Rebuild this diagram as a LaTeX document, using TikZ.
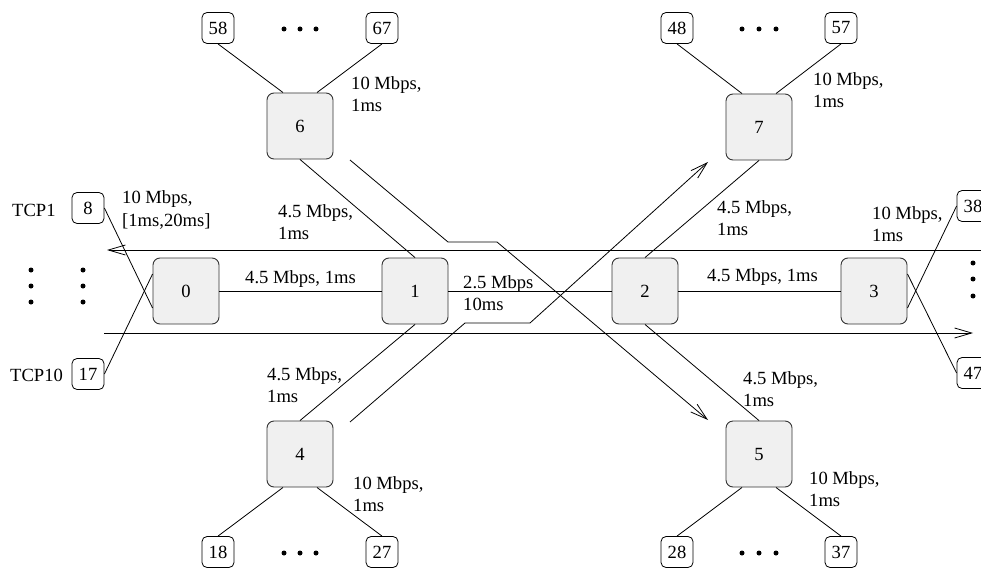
\documentclass[tikz,border=0pt]{standalone}
\usepackage{fontspec}
\setmainfont{Liberation Serif}
\newfontfamily\tms{Liberation Serif}
\usetikzlibrary{arrows.meta,calc}
\begin{document}
\begin{tikzpicture}[x=1pt,y=-1pt,
  every node/.append style={font=\tms\fontsize{18.6}{22.5}\selectfont},
  router/.style={draw=black!80, fill=black!6, rounded corners=7pt, minimum width=66pt, minimum height=66pt, inner sep=0pt, line width=0.9pt},
  leaf/.style={draw, fill=white, rounded corners=5pt, minimum width=32pt, minimum height=31pt, inner sep=0pt, line width=0.8pt},
  lbl/.style={anchor=west, align=left, inner sep=0pt},
  link/.style={line width=0.8pt},
  flow/.style={line width=0.8pt, -{Straight Barb[length=17pt,width=10pt]}},
  dot/.style={circle, fill, inner sep=0pt, minimum size=5pt}
]
\useasboundingbox (0,0) rectangle (981,572);
\clip (0,0) rectangle (981,572);

% routers
\node[router] (r0) at (186,291) {0};
\node[router] (r1) at (415,291) {1};
\node[router] (r2) at (645,291) {2};
\node[router] (r3) at (874,291) {3};
\node[router] (r6) at (300,126) {6};
\node[router] (r7) at (759,127) {7};
\node[router] (r4) at (300,454) {4};
\node[router] (r5) at (759,454) {5};

% leaves
\node[leaf] (n58) at (218,28) {58};
\node[leaf] (n67) at (382,28) {67};
\node[leaf] (n48) at (677,28) {48};
\node[leaf] (n57) at (841,28) {57};
\node[leaf] (n18) at (218,552) {18};
\node[leaf] (n27) at (382,552) {27};
\node[leaf] (n28) at (677,552) {28};
\node[leaf] (n37) at (841,552) {37};
\node[leaf] (n8) at (88,208) {8};
\node[leaf] (n17) at (88,374) {17};
\node[leaf] (n38) at (973,206) {38};
\node[leaf] (n47) at (973,373) {47};

% dots
\foreach \x [count=\i] in {284,300,316} {
  \node[dot] (dt\i) at (\x,29) {};
  \node[dot] (db\i) at (\x,553) {};
}
\foreach \x [count=\i] in {742,759,776} {
  \node[dot] (dtr\i) at (\x,29) {};
  \node[dot] (dbr\i) at (\x,553) {};
}
\foreach \y [count=\i] in {270,286,302} {
  \node[dot] (dla\i) at (31,\y) {};
  \node[dot] (dlb\i) at (83,\y) {};
}
\foreach \y [count=\i] in {263,279,296} {
  \node[dot] (dr\i) at (973,\y) {};
}

% router links
\draw[link] (r0) -- (r1);
\draw[link] (r1) -- (r2);
\draw[link] (r2) -- (r3);
\draw[link] (r6.south) -- (r1.north);
\draw[link] (r1.south) -- (r4.north);
\draw[link] (r7.south) -- (r2.north);
\draw[link] (r2.south) -- (r5.north);

% leaf links
\draw[link] (n58.south) -- ([xshift=-17pt]r6.north);
\draw[link] (n67.south) -- ([xshift=17pt]r6.north);
\draw[link] (n48.south) -- ([xshift=-17pt]r7.north);
\draw[link] (n57.south) -- ([xshift=17pt]r7.north);
\draw[link] (n18.north) -- ([xshift=-17pt]r4.south);
\draw[link] (n27.north) -- ([xshift=17pt]r4.south);
\draw[link] (n28.north) -- ([xshift=-17pt]r5.south);
\draw[link] (n37.north) -- ([xshift=17pt]r5.south);
\draw[link] (n8.east) -- ([yshift=-17pt]r0.west);
\draw[link] (n17.east) -- ([yshift=17pt]r0.west);
\draw[link] ([yshift=-17pt]r3.east) -- (n38.west);
\draw[link] ([yshift=17pt]r3.east) -- (n47.west);

% flows
\coordinate (ta) at (990,250);
\coordinate (tb) at (107,250);
\coordinate (ba) at (104,333);
\coordinate (bb) at (973,333);
\draw[flow] (ta) -- (tb);
\draw[flow] (ba) -- (bb);

\coordinate (fa1) at (350,160);
\coordinate (fa2) at (448,242);
\coordinate (fa3) at (497,242);
\coordinate (fa4) at (708,420);
\draw[flow] (fa1) -- (fa2) -- (fa3) -- (fa4);

\coordinate (fb1) at (350,422);
\coordinate (fb2) at (465,323);
\coordinate (fb3) at (530,323);
\coordinate (fb4) at (708,162);
\draw[flow] (fb1) -- (fb2) -- (fb3) -- (fb4);

% labels
\node[lbl] (l8) at (122,210) {10 Mbps,\\{}[1ms,20ms]};
\node[lbl] (l1u) at (278,222) {4.5 Mbps,\\1ms};
\node[lbl] (l01) at (245,279) {4.5 Mbps, 1ms};
\node[lbl] (l12) at (463,293) {2.5 Mbps\\10ms};
\node[lbl] (l23) at (707,277) {4.5 Mbps, 1ms};
\node[lbl] (l7u) at (717,218) {4.5 Mbps,\\1ms};
\node[lbl] (l3) at (872,224) {10 Mbps,\\1ms};
\node[lbl] (l4u) at (267,385) {4.5 Mbps,\\1ms};
\node[lbl] (l5u) at (743,389) {4.5 Mbps,\\1ms};
\node[lbl] (l6) at (351,94) {10 Mbps,\\1ms};
\node[lbl] (l7) at (813,90) {10 Mbps,\\1ms};
\node[lbl] (l4) at (353,494) {10 Mbps,\\1ms};
\node[lbl] (l5) at (809,489) {10 Mbps,\\1ms};
\node[lbl] (tcp1) at (12,210) {TCP1};
\node[lbl] (tcp10) at (10,375) {TCP10};
\end{tikzpicture}
\end{document}
